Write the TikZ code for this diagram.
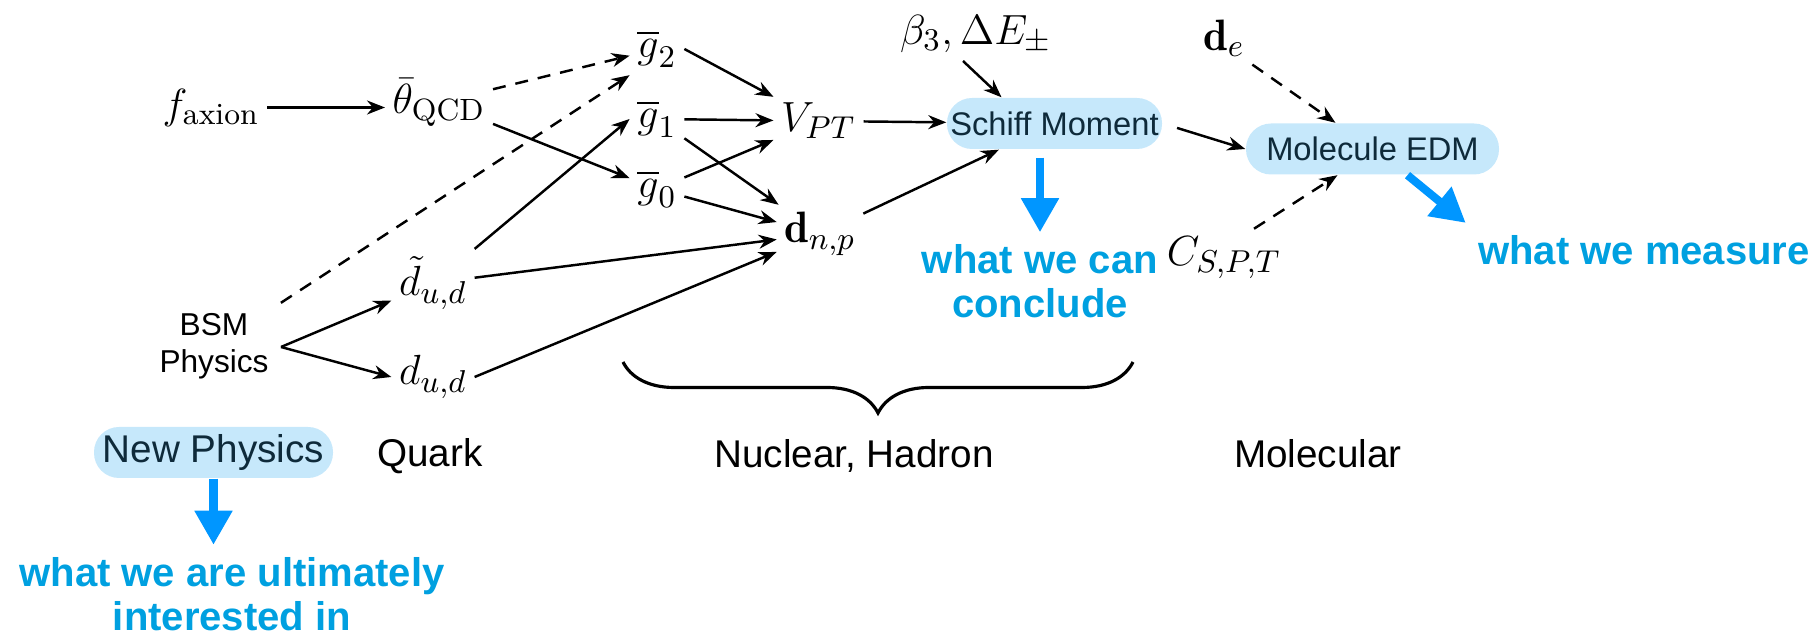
\documentclass[tikz,border=0pt]{standalone}
\usepackage{amsmath,amssymb}
\usepackage{fontspec}
\setsansfont{Liberation Sans}
\usepackage{xcolor}
\usepackage{tikz}
\usetikzlibrary{positioning, arrows.meta, calc, decorations.pathreplacing}
\definecolor{EDMBlue}{HTML}{0096FF}
\definecolor{EDMText}{HTML}{00A0E0}
\definecolor{EDMFill}{HTML}{C6E8FB}
\definecolor{EDMInk}{HTML}{0E2A3A}
\tikzset{
  qty/.style={inner sep=2pt, font=\fontsize{12.5}{15}\selectfont},
  tag/.style={font=\sffamily\fontsize{11}{13}\selectfont},
  blob/.style={fill=EDMFill, rounded corners=2.5mm, minimum height=5.1mm, inner sep=0pt,
    text=EDMInk, font=\sffamily\fontsize{9.3}{11}\selectfont},
  note/.style={text=EDMText, align=center, font=\sffamily\bfseries\fontsize{11.4}{12.6}\selectfont},
  link/.style={-{Stealth[length=1.8mm,width=1.4mm]}, line width=0.7pt},
  maybe/.style={link, dash pattern=on 1.3mm off 1mm},
  hint/.style={-{Triangle[length=3.4mm,width=3.6mm]}, line width=2.3pt, draw=EDMBlue},
}

\begin{document}
\begin{tikzpicture}
  \useasboundingbox (0,0) rectangle (18.15,-6.36);
  % quantities
  \node[qty] (fax) at (2.11,-1.075) {$f_{\mathrm{axion}}$};
  \node[qty] (thqcd) at (4.39,-1.025) {$\bar{\theta}_{\mathrm{QCD}}$};
  \node[qty] (gtwo) at (6.57,-0.49) {$\overline{g}_2$};
  \node[qty] (gone) at (6.57,-1.19) {$\overline{g}_1$};
  \node[qty] (gzero) at (6.57,-1.89) {$\overline{g}_0$};
  \node[qty] (vpt) at (8.185,-1.21) {$V_{PT}$};
  \node[qty] (dnp) at (8.20,-2.34) {$\mathbf{d}_{n,p}$};
  \node[qty] (dtil) at (4.33,-2.83) {$\tilde{d}_{u,d}$};
  \node[qty] (dud) at (4.33,-3.77) {$d_{u,d}$};
  \node[align=center, font=\sffamily\fontsize{9}{10.5}\selectfont] (bsm) at (2.14,-3.465) {BSM\\Physics};
  \coordinate (fork) at (2.81,-3.47);
  \node[qty] (beta) at (9.76,-0.34) {$\beta_3, \Delta E_{\pm}$};
  \node[qty] (de) at (12.24,-0.385) {$\mathbf{d}_e$};
  \node[qty] (cspt) at (12.24,-2.575) {$C_{S,P,T}$};
  \node[blob, minimum width=2.15cm] (schiff) at (10.545,-1.235) {Schiff Moment};
  \node[blob, minimum width=2.53cm] (mol) at (13.725,-1.49) {Molecule EDM};
  \node[blob, minimum width=2.39cm, font=\sffamily\fontsize{11}{13}\selectfont] (newphys) at (2.135,-4.525) {New Physics};
  % scale labels
  \node[tag] (quark) at (4.30,-4.56) {Quark};
  \node[tag] (nuchad) at (8.54,-4.56) {Nuclear, Hadron};
  \node[tag] (molec) at (13.18,-4.535) {Molecular};
  % blue remarks
  \node[note] (conc) at (10.40,-2.815) {what we can\\conclude};
  \node[note] (meas) at (16.44,-2.50) {what we measure};
  \node[note] (ult) at (2.32,-5.94) {what we are ultimately\\interested in};

  \draw[link] (fax.east) -- (thqcd.west |- fax.east);
  \draw[maybe] (thqcd) -- (gtwo);
  \draw[link] (thqcd) -- (gzero);
  \draw[maybe] (bsm) -- (gtwo.south west);
  \draw[link] (fork) -- (dtil);
  \draw[link] (fork) -- (dud.west);
  \draw[link] (dtil.north east) -- (gone.west);
  \draw[link] (dtil) -- (dnp);
  \draw[link] (dud.east) -- (dnp);
  \draw[link] (gtwo.east) -- (vpt);
  \draw[link] (gone) -- (vpt);
  \draw[link] (gone) -- (dnp);
  \draw[link] (gzero) -- (vpt);
  \draw[link] (gzero) -- (dnp);
  \draw[link] (vpt) -- (schiff);
  \draw[link] (dnp) -- (schiff);
  \draw[link] ([xshift=-1.3mm]beta.south) -- ([xshift=-5.3mm]schiff.north);
  \draw[link, shorten <=1.5mm] (schiff.east) -- (mol.west);
  \draw[maybe] (de.south east) -- ([xshift=-3.7mm]mol.north);
  \draw[maybe] ([xshift=3mm]cspt.north) -- ([xshift=-3.5mm]mol.south);

  % brace under the nuclear part
  \draw[line width=0.9pt, decorate, decoration={brace, amplitude=5.1mm, mirror}]
    (6.23,-3.62) -- (11.33,-3.62);

  \draw[hint, shorten <=0.8mm] (conc.north |- schiff.south) -- (conc.north);
  \draw[hint] ([xshift=3.5mm]mol.south) -- (meas.north west);
  \draw[hint] (newphys.south) -- (newphys.south |- ult.north);
\end{tikzpicture}
\end{document}
